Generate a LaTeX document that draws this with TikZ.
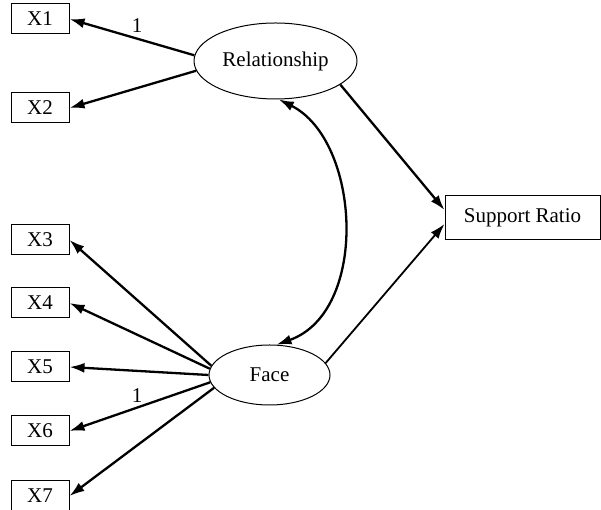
\documentclass[tikz,border=0pt]{standalone}
\usepackage{fontspec}
\setmainfont{Liberation Serif}
\usetikzlibrary{arrows.meta,shapes.geometric}
\begin{document}
\begin{tikzpicture}[x=1pt,y=1pt,
  font=\fontsize{21}{25}\selectfont,
  obs/.style={draw,line width=1pt,minimum width=58pt,minimum height=30pt,inner sep=0pt},
  lat/.style={draw,ellipse,line width=1pt,inner sep=0pt},
  tip/.style={Latex[length=15pt,width=10pt]},
  path/.style={line width=2.3pt,-{Latex[length=15pt,width=10pt]}},
  lab/.style={inner sep=0pt}]
\useasboundingbox (0,0) rectangle (601,510);
\node[obs] (x1) at (40,491) {X1};
\node[obs] (x2) at (40,402) {X2};
\node[obs] (x3) at (40,270) {X3};
\node[obs] (x4) at (40,207) {X4};
\node[obs] (x5) at (40,143) {X5};
\node[obs] (x6) at (40,79) {X6};
\node[obs] (x7) at (40,14) {X7};
\node[lat,minimum width=163pt,minimum height=76pt] (rel) at (275.5,449) {Relationship};
\node[lat,minimum width=121pt,minimum height=60pt] (face) at (269.5,135) {Face};
\node[draw,line width=1pt,minimum width=155pt,minimum height=44pt,inner sep=0pt] (sr) at (522.5,292) {Support Ratio};
\draw[path] (rel.176) -- (x1.east);
\draw[path] (rel.187) -- (x2.east);
\node[lab] (l1) at (137,484) {1};
\draw[path] (face.171) -- (x3.east);
\draw[path] (face.174) -- (x4.east);
\draw[path] (face.180) -- (x5.east);
\draw[path] (face.187) -- (x6.east);
\draw[path] (face.193) -- (x7.east);
\node[lab] (l2) at (137,114) {1};
\draw[path] (rel.-20) -- ([yshift=8pt]sr.west);
\draw[path,line width=1.8pt] (face.12) -- ([yshift=-6pt]sr.west);
\draw[line width=2.3pt,{Latex[length=15pt,width=10pt]}-{Latex[length=15pt,width=10pt]}]
  (rel.-85) .. controls +(82,-41) and +(93,33) .. (face.77);
\end{tikzpicture}
\end{document}
